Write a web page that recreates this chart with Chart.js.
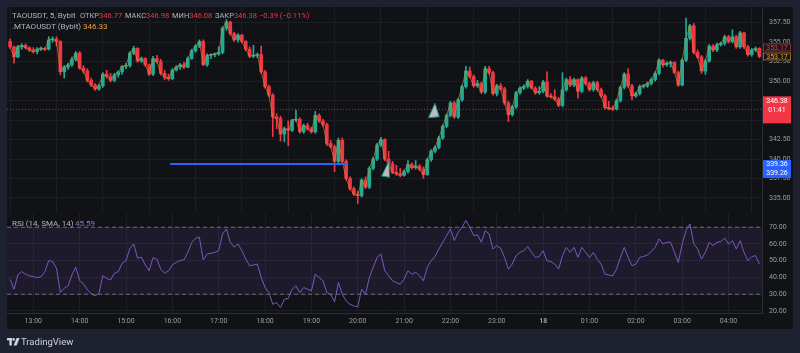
<!DOCTYPE html>
<html>
<head>
<meta charset="utf-8">
<script src="https://cdn.jsdelivr.net/npm/chart.js@4.4.1/dist/chart.umd.min.js"></script>
<style>
  html, body { margin: 0; padding: 0; }
  body { width: 800px; height: 353px; background: #1e2130; position: relative; overflow: hidden; font-family: Roboto, "Noto Sans", sans-serif; }
  #frame { position: absolute; left: 7px; top: 7px; width: 786px; height: 322px; background: #111216; }
  canvas { position: absolute; left: 7px; }
  #main { top: 7px; }
  #rsi { top: 213px; }
  .lg { position: absolute; font-size: 8px; line-height: 8px; color: #b2b5be; white-space: nowrap; }
  .sm { font-size: 7.5px; top: 12.3px; }
  .red { color: #f23645; }
  .org { color: #f0a030; }
  .pur { color: #9575cd; }
  #brand { position: absolute; left: 21px; top: 337px; font-size: 9.5px; line-height: 10px; color: #d1d4dc; }
  #logo { position: absolute; left: 7px; top: 338px; }
</style>
</head>
<body>
<div id="frame"></div>
<canvas id="main" width="786" height="206"></canvas>
<canvas id="rsi" width="786" height="116"></canvas>

<div class="lg" style="left:12px;top:12px">TAOUSDT, 5, Bybit</div>
<div class="lg sm" style="left:80px">ОТКР<span class="red">346.77</span></div>
<div class="lg sm" style="left:125px">МАКС<span class="red">346.98</span></div>
<div class="lg sm" style="left:172px">МИН<span class="red">346.08</span></div>
<div class="lg sm" style="left:215px">ЗАКР<span class="red">346.38</span></div>
<div class="lg sm red" style="left:259px">−0.39 (−0.11%)</div>
<div class="lg" style="left:12px;top:23px">.MTAOUSDT (Bybit)</div>
<div class="lg org" style="left:83px;top:23px">346.33</div>
<div class="lg" style="left:12px;top:219.5px">RSI (14, SMA, 14)</div>
<div class="lg pur" style="left:75px;top:219.5px">45.59</div>

<svg id="logo" width="13" height="8" viewBox="0 0 13 8">
  <rect x="0" y="0" width="5" height="2.4" fill="#d1d4dc"/>
  <rect x="2.4" y="0" width="2.4" height="7.5" fill="#d1d4dc"/>
  <circle cx="6.6" cy="1.4" r="1.3" fill="#d1d4dc"/>
  <polygon points="9.6,0 12.6,0 9.6,7.5 6.6,7.5" fill="#d1d4dc"/>
</svg>
<div id="brand">TradingView</div>

<script>
// 5 minute candles, index 0 = 13:00, first candle 12:30
const firstIdx = -6;

const opens = [
  355.1, 354.4, 353.1, 354.4, 354.6, 354.3,
  354.0, 353.8, 354.1, 354.2, 354.1, 355.3, 355.4, 355.1, 351.2, 351.8,
  352.1, 352.8, 353.6, 351.7, 351.3, 350.1, 349.5, 349.0, 349.4, 350.9,
  350.6, 350.1, 350.8, 351.2, 351.9, 352.0, 353.6, 354.2, 352.6, 352.9,
  352.1, 350.9, 352.9, 352.5, 351.0, 350.5, 350.3, 351.4, 351.8, 352.1,
  351.8, 352.9, 353.9, 354.5, 355.1, 352.1, 353.3, 353.4, 353.5, 353.7,
  356.8, 357.6, 356.1, 355.3, 355.9, 355.1, 354.1, 353.2, 353.3, 353.4,
  351.2, 349.3, 348.2, 345.4, 345.2, 343.2, 343.9, 343.7, 345.0, 345.1,
  343.5, 344.3, 343.9, 343.5, 345.6, 344.9, 344.4, 342.0, 341.6, 339.7,
  342.4, 339.7, 337.5, 336.2, 335.5, 335.3, 337.3, 336.4, 338.8, 340.0,
  341.8, 342.5, 340.0, 339.4, 338.3, 338.1, 337.9, 338.4, 339.3, 338.9,
  339.1, 338.7, 338.0, 339.9, 341.0, 341.5, 342.7, 344.2, 345.6, 347.2,
  345.4, 347.6, 349.3, 351.3, 350.6, 349.4, 349.7, 348.6, 351.6, 351.1,
  348.4, 349.4, 349.0, 347.2, 345.7, 346.7, 348.5, 349.1, 349.3, 350.0,
  349.1, 348.5, 348.7, 349.9, 348.1, 348.0, 347.7, 346.9, 348.9, 350.2,
  349.5, 350.2, 348.7, 350.4, 349.7, 348.9, 349.8, 348.9, 348.1, 346.6,
  346.5, 346.4, 347.5, 349.2, 350.9, 349.4, 348.1, 348.4, 349.3, 349.4,
  349.7, 350.2, 351.0, 352.7, 352.1, 352.3, 352.4, 351.1, 349.5, 352.7,
  355.5, 357.1, 353.7, 353.1, 351.3, 352.6, 354.5, 354.0, 354.7, 354.85,
  355.7, 355.1, 355.7, 354.4, 356.2, 354.4, 353.4, 354.0, 354.2
];
const highs = [
  355.4, 354.5, 354.6, 354.8, 354.8, 354.4,
  354.3, 354.3, 354.4, 354.3, 355.7, 355.7, 355.7, 355.2, 352.0, 352.3,
  353.1, 353.8, 353.8, 352.0, 351.6, 350.4, 349.7, 349.6, 351.1, 351.4,
  351.0, 351.0, 351.3, 352.0, 352.3, 353.8, 354.5, 354.3, 353.1, 353.0,
  352.2, 353.2, 353.3, 352.8, 351.4, 350.9, 351.6, 352.0, 352.3, 352.4,
  353.1, 354.1, 354.7, 355.3, 355.3, 353.5, 353.5, 353.6, 354.4, 357.0,
  357.9, 357.7, 356.3, 356.1, 356.0, 355.2, 354.4, 354.6, 353.6, 354.5,
  351.4, 349.5, 348.4, 345.8, 345.5, 344.1, 344.9, 345.1, 346.3, 345.3,
  344.5, 344.6, 344.1, 346.1, 345.8, 345.1, 344.6, 342.4, 341.8, 342.7,
  342.7, 339.9, 337.7, 336.4, 335.9, 337.5, 337.7, 339.0, 340.2, 342.0,
  342.8, 342.6, 341.0, 339.7, 339.2, 338.8, 338.6, 339.8, 339.5, 339.8,
  339.3, 339.0, 340.1, 341.2, 341.7, 342.9, 344.4, 345.8, 347.4, 347.4,
  347.8, 349.5, 351.9, 351.8, 350.8, 350.1, 349.9, 351.9, 351.9, 351.3,
  349.6, 349.7, 349.2, 347.4, 346.9, 348.7, 349.3, 349.5, 350.2, 350.1,
  349.3, 349.3, 350.1, 351.2, 348.4, 348.9, 347.9, 351.1, 350.4, 350.6,
  350.4, 350.3, 350.6, 350.6, 349.9, 350.0, 350.0, 349.1, 348.3, 347.4,
  346.8, 347.7, 349.4, 351.1, 351.6, 349.6, 348.6, 349.5, 349.6, 349.9,
  350.4, 351.2, 352.9, 352.8, 352.5, 352.6, 352.5, 351.3, 352.9, 358.1,
  357.3, 357.4, 354.0, 353.3, 352.8, 354.7, 354.7, 354.9, 355.0, 355.9,
  355.9, 356.6, 355.9, 356.4, 356.3, 354.6, 354.2, 354.4, 354.3
];
const lows = [
  354.2, 352.3, 353.0, 354.1, 354.1, 353.8,
  353.6, 353.5, 353.9, 353.9, 354.0, 355.0, 354.5, 350.8, 350.4, 351.5,
  351.9, 352.6, 351.5, 351.0, 349.9, 349.3, 348.8, 348.8, 349.2, 350.4,
  349.9, 349.9, 350.5, 350.9, 351.6, 351.8, 353.4, 352.4, 352.4, 351.9,
  350.7, 350.7, 352.3, 350.8, 350.2, 350.1, 350.2, 351.3, 351.5, 351.6,
  351.7, 352.8, 353.7, 354.3, 352.0, 351.9, 352.9, 353.1, 353.3, 353.5,
  356.5, 355.9, 355.1, 355.0, 354.9, 353.9, 353.0, 353.0, 353.0, 351.0,
  349.1, 348.0, 342.9, 343.9, 342.3, 342.2, 341.7, 343.5, 344.8, 343.3,
  343.3, 343.7, 343.3, 343.3, 344.7, 344.2, 341.7, 341.4, 338.4, 339.5,
  339.5, 337.3, 336.0, 335.3, 334.3, 335.1, 336.2, 336.2, 338.6, 339.8,
  341.6, 339.8, 339.2, 338.1, 337.9, 337.7, 337.8, 338.2, 338.7, 338.7,
  338.5, 337.5, 337.9, 339.7, 340.8, 341.3, 342.5, 344.0, 345.4, 345.2,
  345.2, 347.4, 349.1, 350.4, 349.2, 349.2, 348.4, 348.4, 350.9, 348.2,
  348.1, 348.8, 347.0, 344.8, 345.5, 346.5, 348.3, 348.9, 349.1, 349.0,
  348.3, 348.3, 348.5, 347.9, 347.8, 347.5, 346.7, 346.7, 348.7, 349.3,
  349.3, 347.8, 348.5, 349.5, 348.7, 348.7, 348.7, 347.9, 346.4, 346.3,
  346.2, 346.3, 347.3, 349.0, 349.2, 347.6, 347.9, 348.2, 349.1, 349.2,
  349.5, 350.0, 350.8, 351.8, 351.9, 351.8, 351.0, 349.3, 349.4, 352.5,
  355.3, 353.5, 352.9, 351.0, 350.9, 352.4, 353.8, 353.8, 354.5, 354.6,
  354.9, 354.9, 354.2, 354.2, 354.2, 353.2, 353.2, 353.8, 353.0
];
const closes = [
  354.4, 353.1, 354.4, 354.6, 354.3, 354.0,
  353.8, 354.1, 354.2, 354.1, 355.3, 355.4, 355.1, 351.2, 351.8, 352.1,
  352.8, 353.6, 351.7, 351.3, 350.1, 349.5, 349.0, 349.4, 350.9, 350.6,
  350.1, 350.8, 351.2, 351.9, 352.0, 353.6, 354.2, 352.6, 352.9, 352.1,
  350.9, 352.9, 352.5, 351.0, 350.5, 350.3, 351.4, 351.8, 352.1, 351.8,
  352.9, 353.9, 354.5, 355.1, 352.1, 353.3, 353.4, 353.5, 353.7, 356.8,
  357.6, 356.1, 355.3, 355.9, 355.1, 354.1, 353.2, 353.3, 353.4, 351.2,
  349.3, 348.2, 345.4, 345.2, 343.2, 343.9, 343.7, 345.0, 345.1, 343.5,
  344.3, 343.9, 343.5, 345.6, 344.9, 344.4, 342.0, 341.6, 339.7, 342.4,
  339.7, 337.5, 336.2, 335.5, 335.3, 337.3, 336.4, 338.8, 340.0, 341.8,
  342.5, 340.0, 339.4, 338.3, 338.1, 337.9, 338.4, 339.3, 338.9, 339.1,
  338.7, 338.0, 339.9, 341.0, 341.5, 342.7, 344.2, 345.6, 347.2, 345.4,
  347.6, 349.3, 351.3, 350.6, 349.4, 349.7, 348.6, 351.6, 351.1, 348.4,
  349.4, 349.0, 347.2, 345.7, 346.7, 348.5, 349.1, 349.3, 350.0, 349.1,
  348.5, 348.7, 349.9, 348.1, 348.0, 347.7, 346.9, 348.9, 350.2, 349.5,
  350.2, 348.7, 350.4, 349.7, 348.9, 349.8, 348.9, 348.1, 346.6, 346.5,
  346.4, 347.5, 349.2, 350.9, 349.4, 348.1, 348.4, 349.3, 349.4, 349.7,
  350.2, 351.0, 352.7, 352.1, 352.3, 352.4, 351.1, 349.5, 352.7, 355.5,
  357.1, 353.7, 353.1, 351.3, 352.6, 354.5, 354.0, 354.7, 354.85, 355.7,
  355.1, 355.7, 354.4, 356.2, 354.4, 353.4, 354.0, 354.2, 353.17
];
const rsiValues = [
  38.9, 33.0, 41.5, 43.5, 41.9, 41.0,
  40.5, 39.9, 40.5, 43.5, 50.1, 49.5, 45.5, 31.0, 33.6, 35.0,
  41.5, 46.1, 38.1, 36.1, 32.6, 30.5, 29.0, 30.6, 41.1, 39.5,
  38.5, 42.5, 43.5, 48.5, 49.9, 57.4, 60.0, 51.5, 52.1, 47.5,
  44.1, 51.9, 50.9, 44.9, 42.5, 43.9, 47.5, 49.0, 50.1, 50.5,
  54.9, 60.8, 63.4, 64.0, 50.5, 54.0, 54.5, 55.0, 56.0, 66.0,
  69.0, 61.0, 58.0, 60.0, 56.0, 51.0, 47.0, 47.5, 48.0, 40.0,
  34.0, 31.0, 24.0, 25.0, 22.0, 27.0, 27.5, 33.0, 35.0, 31.0,
  34.0, 33.0, 32.0, 42.0, 40.0, 38.0, 31.0, 30.0, 25.5, 37.0,
  30.0, 26.0, 24.0, 23.0, 22.5, 33.0, 30.0, 40.0, 46.0, 52.0,
  54.0, 44.0, 41.0, 38.0, 37.0, 36.0, 39.0, 44.0, 42.0, 43.0,
  41.0, 38.0, 46.0, 50.0, 52.5, 57.0, 61.0, 65.0, 69.0, 62.0,
  67.0, 70.0, 74.0, 70.0, 65.0, 65.5, 61.0, 68.0, 66.0, 57.0,
  59.0, 57.5, 52.0, 45.0, 48.0, 53.0, 55.0, 56.0, 58.5, 55.0,
  52.0, 52.5, 56.0, 50.0, 49.5, 48.0, 45.0, 53.0, 58.0, 55.0,
  58.0, 52.0, 58.0, 55.0, 52.0, 55.0, 51.0, 48.0, 42.0, 41.5,
  41.0, 45.0, 52.0, 58.0, 52.0, 47.0, 48.0, 52.0, 52.5, 53.5,
  55.5, 58.0, 63.0, 60.0, 61.0, 61.0, 55.0, 49.0, 60.0, 68.0,
  72.0, 60.0, 57.0, 51.0, 55.0, 61.0, 59.0, 61.0, 61.5, 63.5,
  60.0, 62.0, 57.0, 62.0, 55.0, 50.0, 52.5, 53.0, 48.0
];

const priceTicks = [335, 337.5, 340, 342.5, 345, 347.5, 350, 352.5, 355, 357.5];
const rsiTicks = [20, 30, 40, 50, 60, 70];
const hourTicks = [0, 12, 24, 36, 48, 60, 72, 84, 96, 108, 120, 132, 144, 156, 168, 180];
const hourLabels = ['13:00', '14:00', '15:00', '16:00', '17:00', '18:00', '19:00', '20:00',
  '21:00', '22:00', '23:00', '18', '01:00', '02:00', '03:00', '04:00'];

const lastPrice = 346.38;
const markPrice = 353.17;
const rayLine = [[35.4, 339.36], [81.5, 339.36]];
const triangles = [
  [[104.0, 347.15], [102.3, 345.3], [105.1, 345.43]],
  [[92.1, 339.79], [90.2, 337.82], [92.2, 337.65]]
];

// visible range of the panes
const xMin = -6.81, xMax = 188.66;
const yMin = 333.07, yMax = 359.52;
const rsiMin = 18.8, rsiMax = 78.5;

const upColor = '#22ab94';
const downColor = '#f23645';
const gridColor = '#1c1e25';
const lineColor = '#2a2d36';
const tickColor = '#9a9da6';

Chart.defaults.font.family = 'Roboto, "Noto Sans", sans-serif';

const xs = opens.map((_, i) => firstIdx + i);
const candleColors = opens.map((o, i) => closes[i] >= o ? upColor : downColor);

// keep the panes flush: no label padding around the plot area
const fixWidth = s => { s.width = 31; s.paddingTop = 0; s.paddingBottom = 0; };
const flatX = h => s => { s.height = h; s.paddingLeft = 0; s.paddingRight = 0; };

// drawings + price tags on the axis
const overlay = {
  id: 'overlay',
  afterDatasetsDraw(chart) {
    const { ctx, scales: { x, y } } = chart;
    ctx.save();
    triangles.forEach(t => {
      ctx.beginPath();
      t.forEach(([a, b], j) => {
        const px = x.getPixelForValue(a), py = y.getPixelForValue(b);
        j ? ctx.lineTo(px, py) : ctx.moveTo(px, py);
      });
      ctx.closePath();
      ctx.fillStyle = '#b8bbc3';
      ctx.fill();
      ctx.strokeStyle = '#1e8c7a';
      ctx.lineWidth = 1;
      ctx.stroke();
    });
    ctx.restore();
  },
  afterDraw(chart) {
    const { ctx, scales: { y } } = chart;
    const left = y.left + 1, w = 28;
    ctx.save();
    ctx.font = '7px Roboto';
    ctx.textBaseline = 'middle';
    ctx.textAlign = 'center';
    const tag = (top, h, fill, stroke, color, lines) => {
      ctx.fillStyle = fill;
      ctx.fillRect(left, top, w, h);
      if (stroke) {
        ctx.strokeStyle = stroke;
        ctx.lineWidth = 1;
        ctx.strokeRect(left + 0.5, top + 0.5, w - 1, h - 1);
      }
      ctx.fillStyle = color;
      lines.forEach((s, i) => ctx.fillText(s, left + w / 2, top + 4.5 + i * 9));
    };
    const ym = y.getPixelForValue(markPrice);
    tag(ym - 13, 8, '#16171c', '#8c2a33', '#f23645', [markPrice.toFixed(2)]);
    tag(ym - 4, 8, '#16171c', '#8a6a25', '#f0a030', [markPrice.toFixed(2)]);
    const yl = y.getPixelForValue(lastPrice);
    tag(yl - 13, 27, '#f23645', null, '#ffffff', [lastPrice.toFixed(2), '01:41']);
    const yr = y.getPixelForValue(rayLine[0][1]);
    tag(yr - 4, 18, '#2962ff', null, '#ffffff', ['339.36', '339.26']);
    ctx.restore();
  }
};

new Chart(document.getElementById('main'), {
  type: 'bar',
  data: {
    datasets: [
      {
        type: 'line',
        data: [{ x: xMin, y: lastPrice }, { x: xMax, y: lastPrice }],
        borderColor: 'rgba(242,54,69,0.75)', borderWidth: 1, borderDash: [1, 2],
        pointRadius: 0, order: 5
      },
      {
        type: 'bar',
        data: xs.map((x, i) => ({ x, y: [lows[i], highs[i]] })),
        backgroundColor: candleColors, barThickness: 1, grouped: false, order: 3
      },
      {
        type: 'bar',
        data: xs.map((x, i) => ({ x, y: [opens[i], closes[i]] })),
        backgroundColor: candleColors, barThickness: 3, grouped: false,
        minBarLength: 1, order: 2
      },
      {
        type: 'line',
        data: xs.map((x, i) => ({ x, y: closes[i] })),
        borderColor: 'rgba(205,140,45,0.65)', borderWidth: 1, pointRadius: 0, order: 1
      },
      {
        type: 'line',
        data: rayLine.map(([x, y]) => ({ x, y })),
        borderColor: '#2962ff', borderWidth: 2, pointRadius: 0, order: 0
      }
    ]
  },
  options: {
    responsive: false, animation: false, events: [],
    layout: { padding: 0, autoPadding: false },
    plugins: { legend: { display: false }, tooltip: { enabled: false } },
    scales: {
      x: {
        type: 'linear', min: xMin, max: xMax, offset: false,
        afterBuildTicks: s => { s.ticks = hourTicks.map(v => ({ value: v })); },
        afterFit: flatX(0),
        ticks: { display: false },
        grid: { color: gridColor, drawTicks: false },
        border: { display: true, color: lineColor }
      },
      y: {
        position: 'right', min: yMin, max: yMax,
        afterBuildTicks: s => { s.ticks = priceTicks.map(v => ({ value: v })); },
        afterFit: fixWidth,
        ticks: { color: tickColor, font: { size: 7 }, padding: 7, callback: v => v.toFixed(2) },
        grid: { color: gridColor, drawTicks: false },
        border: { display: true, color: lineColor }
      }
    }
  },
  plugins: [overlay]
});

new Chart(document.getElementById('rsi'), {
  type: 'line',
  data: {
    datasets: [
      {
        data: [{ x: xMin, y: 70 }, { x: xMax, y: 70 }],
        borderColor: '#6a6d78', borderWidth: 1, borderDash: [4, 3], pointRadius: 0, fill: false
      },
      {
        data: [{ x: xMin, y: 30 }, { x: xMax, y: 30 }],
        borderColor: '#6a6d78', borderWidth: 1, borderDash: [4, 3], pointRadius: 0,
        fill: '-1', backgroundColor: 'rgba(126,87,194,0.12)'
      },
      {
        data: xs.map((x, i) => ({ x, y: rsiValues[i] })),
        borderColor: '#7e57c2', borderWidth: 1, pointRadius: 0, fill: false
      }
    ]
  },
  options: {
    responsive: false, animation: false, events: [],
    layout: { padding: 0, autoPadding: false },
    plugins: { legend: { display: false }, tooltip: { enabled: false } },
    scales: {
      x: {
        type: 'linear', min: xMin, max: xMax, offset: false,
        afterBuildTicks: s => { s.ticks = hourTicks.map(v => ({ value: v })); },
        afterFit: flatX(16),
        ticks: {
          color: tickColor, padding: 4, maxRotation: 0, autoSkip: false,
          font: c => ({ size: 7, weight: c.tick && c.tick.label === '18' ? 'bold' : 'normal' }),
          callback: v => hourLabels[hourTicks.indexOf(v)]
        },
        grid: { color: gridColor, drawTicks: false },
        border: { display: true, color: lineColor }
      },
      y: {
        position: 'right', min: rsiMin, max: rsiMax,
        afterBuildTicks: s => { s.ticks = rsiTicks.map(v => ({ value: v })); },
        afterFit: fixWidth,
        ticks: { color: tickColor, font: { size: 7 }, padding: 7, callback: v => v.toFixed(2) },
        grid: { color: gridColor, drawTicks: false },
        border: { display: true, color: lineColor }
      }
    }
  }
});
</script>
</body>
</html>
